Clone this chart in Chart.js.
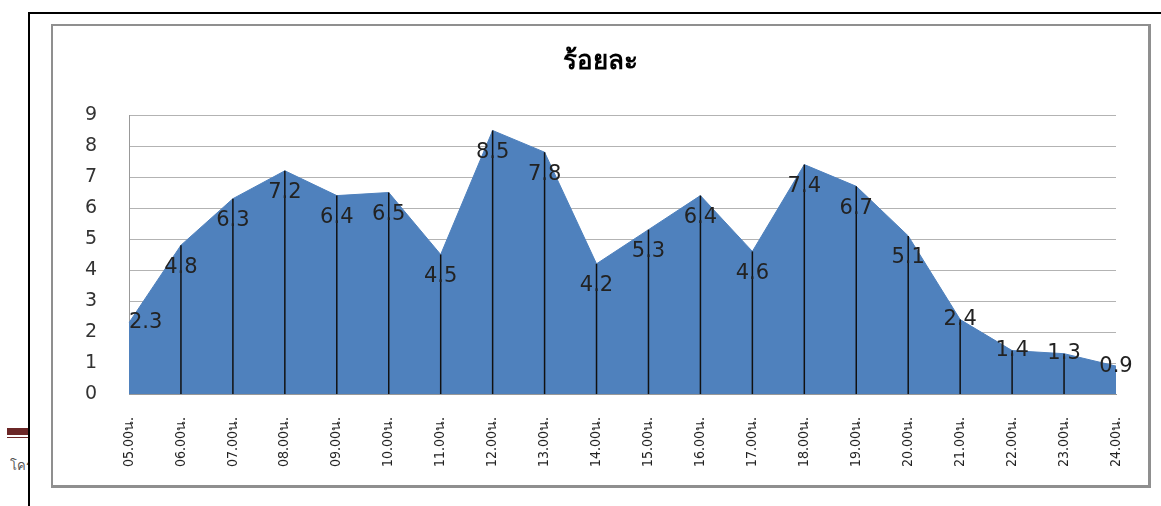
<!DOCTYPE html>
<html>
<head>
<meta charset="utf-8">
<script src="https://cdn.jsdelivr.net/npm/chart.js@4"></script>
<style>
    body { margin: 0; width: 1161px; height: 506px; overflow: hidden; background: #fff; font-family: 'DejaVu Sans', sans-serif; }
    .outer { position: absolute; left: 28px; top: 12px; width: 1200px; height: 600px; border: 2px solid #000; }
    .inner { position: absolute; left: 51px; top: 24px; width: 1095px; height: 459px; border: 2px solid #8f8f8f; border-right-width: 3px; border-bottom-width: 3px; }
    .redbar { position: absolute; left: 7px; top: 428px; width: 21px; height: 7px; background: #6b2727; }
    .redline { position: absolute; left: 7px; top: 437px; width: 21px; height: 1px; background: #6b2727; }
    .side { position: absolute; left: 10px; top: 455px; width: 18px; overflow: hidden; white-space: nowrap; font-size: 13px; color: #555; }
    canvas { position: absolute; left: 0; top: 0; }
</style>
</head>
<body>
<div class="outer"></div>
<div class="inner"></div>
<div class="redbar"></div>
<div class="redline"></div>
<div class="side">โครง</div>
<canvas id="areaChart" width="1161" height="506"></canvas>
<script>
// Chart data
const chartTitle = 'ร้อยละ';
const hours = ['05.00น.', '06.00น.', '07.00น.', '08.00น.', '09.00น.', '10.00น.', '11.00น.',
    '12.00น.', '13.00น.', '14.00น.', '15.00น.', '16.00น.', '17.00น.', '18.00น.', '19.00น.',
    '20.00น.', '21.00น.', '22.00น.', '23.00น.', '24.00น.'];
const percent = [2.3, 4.8, 6.3, 7.2, 6.4, 6.5, 4.5, 8.5, 7.8, 4.2, 5.3, 6.4, 4.6, 7.4, 6.7, 5.1, 2.4, 1.4, 1.3, 0.9];

// Vertical drop lines from each point to the axis
const dropLines = {
    id: 'dropLines',
    afterDatasetsDraw(chart) {
        const ctx = chart.ctx;
        const meta = chart.getDatasetMeta(0);
        const bottom = chart.scales.y.getPixelForValue(0);
        ctx.save();
        ctx.strokeStyle = '#111';
        ctx.lineWidth = 1.5;
        meta.data.forEach((pt, i) => {
            if (i === 0 || i === meta.data.length - 1) return;
            ctx.beginPath();
            ctx.moveTo(pt.x, pt.y);
            ctx.lineTo(pt.x, bottom);
            ctx.stroke();
        });
        ctx.restore();
    }
};

// Value labels and title
const valueLabels = {
    id: 'valueLabels',
    afterDraw(chart) {
        const ctx = chart.ctx;
        const area = chart.chartArea;
        const meta = chart.getDatasetMeta(0);
        ctx.save();
        ctx.font = '21px "DejaVu Sans", sans-serif';
        ctx.fillStyle = '#222';
        ctx.textAlign = 'center';
        ctx.textBaseline = 'middle';
        meta.data.forEach((pt, i) => {
            const text = percent[i].toFixed(1);
            const half = ctx.measureText(text).width / 2;
            let x = Math.max(pt.x, area.left + half);
            let y = pt.y + (percent[i] > 2.5 ? 22 : 0);
            ctx.fillText(text, x, y);
        });
        ctx.font = 'bold 26px "DejaVu Sans", sans-serif';
        ctx.fillStyle = '#000';
        ctx.fillText(chartTitle, 600, 62);
        ctx.restore();
    }
};

new Chart(document.getElementById('areaChart'), {
    type: 'line',
    data: {
        labels: hours,
        datasets: [{
            data: percent,
            fill: 'origin',
            backgroundColor: '#4f81bd',
            borderColor: '#4f81bd',
            borderWidth: 1,
            pointRadius: 0,
            tension: 0
        }]
    },
    options: {
        responsive: false,
        animation: false,
        layout: {
            padding: { left: 60, right: 45, top: 115, bottom: 20 }
        },
        plugins: {
            legend: { display: false },
            tooltip: { enabled: false }
        },
        scales: {
            x: {
                offset: false,
                grid: { display: false },
                border: { color: '#999' },
                ticks: {
                    autoSkip: false,
                    minRotation: 90,
                    maxRotation: 90,
                    padding: 15,
                    color: '#222',
                    font: { size: 14, family: 'DejaVu Sans Condensed' }
                },
                afterFit(axis) { axis.height = 92; }
            },
            y: {
                min: 0,
                max: 9,
                grid: { color: '#b3b3b3', drawTicks: false },
                border: { color: '#999' },
                ticks: {
                    stepSize: 1,
                    padding: 32,
                    color: '#333',
                    font: { size: 19, family: 'DejaVu Sans' }
                },
                afterFit(axis) { axis.width = 69; }
            }
        }
    },
    plugins: [dropLines, valueLabels]
});
</script>
</body>
</html>
